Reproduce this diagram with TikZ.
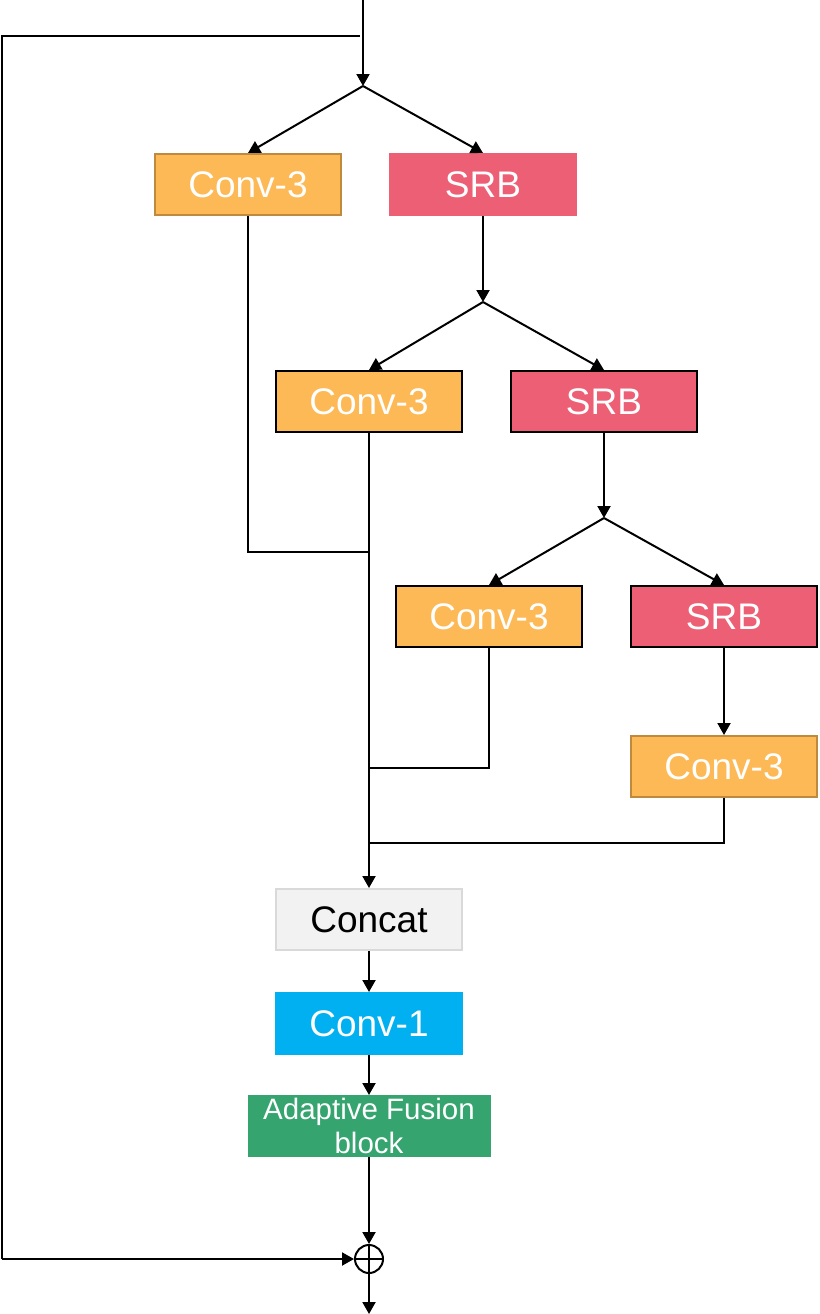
\documentclass[tikz,border=0pt]{standalone}
\usepackage{fontspec}
\setmainfont{Liberation Sans}
\usetikzlibrary{arrows.meta}

\definecolor{convorange}{HTML}{FDB955}
\definecolor{convedge}{HTML}{C08A3E}
\definecolor{srbred}{HTML}{EC5F74}
\definecolor{concatgray}{HTML}{F2F2F2}
\definecolor{concatedge}{HTML}{D9D9D9}
\definecolor{convcyan}{HTML}{00B0F0}
\definecolor{fusegreen}{HTML}{35A46F}

\tikzset{
  blk/.style={minimum width=186pt, minimum height=61pt, inner sep=0pt,
    font=\fontsize{37}{40}\selectfont, text=white, line width=2pt},
  conv/.style={blk, fill=convorange, draw=black},
  srb/.style={blk, fill=srbred, draw=black},
  flow/.style={line width=2pt, -{Triangle[length=12pt,width=13pt]}},
  wire/.style={line width=2pt},
}

\begin{document}
\begin{tikzpicture}[x=1pt, y=-1pt]
    \useasboundingbox (0,0) rectangle (819,1314);
    % input and branch points
    \coordinate (in) at (363,0);
    \coordinate (sp1) at (363,86);
    \coordinate (sp2) at (483,302);
    \coordinate (sp3) at (604,518);
    % blocks
    \node[conv, draw=convedge] (c1) at (248,184.5) {Conv-3};
    \node[srb, draw=srbred] (s1) at (483,184.5) {SRB};
    \node[conv] (c2) at (369,401.5) {Conv-3};
    \node[srb] (s2) at (604,401.5) {SRB};
    \node[conv] (c3) at (489,616.5) {Conv-3};
    \node[srb] (s3) at (724,616.5) {SRB};
    \node[conv, draw=convedge] (c4) at (724,766.5) {Conv-3};
    \node[blk, fill=concatgray, draw=concatedge, text=black] (cat) at (369,919.5) {Concat};
    \node[blk, fill=convcyan, draw=convcyan] (c5) at (369,1023.5) {Conv-1};
    \node[blk, fill=fusegreen, draw=fusegreen, minimum width=241pt, minimum height=60pt, align=center,
          font=\fontsize{29.5}{34}\selectfont] (afb) at (369,1126) {Adaptive Fusion\\block};
    \node[circle, draw, line width=2pt, minimum size=28pt, inner sep=0pt] (add) at (369,1259) {};
    \draw[line width=2pt] (add.north) -- (add.south) (add.west) -- (add.east);
    \coordinate (out) at (369,1314);
    % skip connection
    \coordinate (k1) at (360,36);
    \coordinate (k2) at (2,36);
    \coordinate (k3) at (2,1259);
    \draw[wire] (k1) -- (k2) -- (k3);
    \draw[flow] (k3) -- (add.west);
    % trunk
    \draw[flow] (in) -- (sp1);
    \draw[flow] (sp1) -- (c1.north);
    \draw[flow] (sp1) -- (s1.north);
    \draw[flow] (s1.south) -- (sp2);
    \draw[flow] (sp2) -- (c2.north);
    \draw[flow] (sp2) -- (s2.north);
    \draw[flow] (s2.south) -- (sp3);
    \draw[flow] (sp3) -- (c3.north);
    \draw[flow] (sp3) -- (s3.north);
    \draw[flow] (s3.south) -- (c4.north);
    % gather
    \coordinate (j1) at (369,552);
    \coordinate (j3) at (369,768);
    \coordinate (j4) at (369,843);
    \draw[wire] (c1.south) |- (j1);
    \draw[wire] (c3.south) |- (j3);
    \draw[wire] (c4.south) |- (j4);
    \draw[flow] (c2.south) -- (cat.north);
    \draw[flow] (cat.south) -- (c5.north);
    \draw[flow] (c5.south) -- (afb.north);
    \draw[flow] (afb.south) -- (add.north);
    \draw[flow] (add.south) -- (out);
\end{tikzpicture}
\end{document}
